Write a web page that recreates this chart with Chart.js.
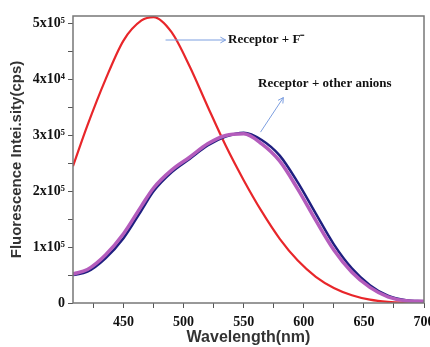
<!DOCTYPE html>
<html>
<head>
<meta charset="utf-8">
<script src="https://cdn.jsdelivr.net/npm/chart.js@4.4.1/dist/chart.umd.min.js"></script>
<style>
  body { margin: 0; background: #fff; }
  canvas { display: block; }
</style>
</head>
<body>
<canvas id="spectraChart" width="430" height="347"></canvas>
<script>
// wavelengths (nm) shared by all curves
const wavelengths = [408, 420, 435, 450, 465, 475, 490, 505, 520, 535, 550, 565, 580, 595, 610, 625, 640, 655, 670, 685, 700];

// intensities (cps)
const receptorF = [245000, 318000, 400000, 470000, 506000, 512000, 485000, 424000, 352000, 282000, 220000, 164000, 115000, 76000, 47000, 27000, 14000, 6000, 2000, 500, 0];
const receptorOther = [50000, 56000, 80000, 116000, 166000, 200000, 234000, 258000, 282000, 298000, 305000, 292000, 264000, 216000, 160000, 105000, 62000, 32000, 13000, 5000, 3000];
const receptorOther2 = [52000, 60000, 86000, 124000, 174000, 206000, 238000, 261000, 285000, 300000, 303000, 285000, 254000, 204000, 148000, 95000, 55000, 28000, 11000, 4000, 3000];

const xTickValues = [425, 450, 475, 500, 525, 550, 575, 600, 625, 650, 675, 700];
const yTickValues = [0, 50000, 100000, 150000, 200000, 250000, 300000, 350000, 400000, 450000, 500000];
const yTickLabels = {0: '0', 100000: '1x10\u2075', 200000: '2x10\u2075', 300000: '3x10\u2075', 400000: '4x10\u2074', 500000: '5x10\u2075'};

function toPoints(values) {
  return values.map((v, i) => ({ x: wavelengths[i], y: v }));
}

// frame round the plot plus the two arrow labels
const framePlugin = {
  id: 'frame',
  afterDraw(chart) {
    const { ctx, chartArea: a, scales: { x, y } } = chart;
    ctx.save();
    ctx.strokeStyle = '#777';
    ctx.lineWidth = 1.5;
    ctx.strokeRect(a.left, a.top, a.right - a.left, a.bottom - a.top);

    const arrow = (x0, y0, x1, y1) => {
      const px0 = x.getPixelForValue(x0), py0 = y.getPixelForValue(y0);
      const px1 = x.getPixelForValue(x1), py1 = y.getPixelForValue(y1);
      const ang = Math.atan2(py1 - py0, px1 - px0);
      ctx.strokeStyle = '#7d9fe0';
      ctx.lineWidth = 1;
      ctx.beginPath();
      ctx.moveTo(px0, py0);
      ctx.lineTo(px1, py1);
      ctx.moveTo(px1 - 6 * Math.cos(ang - 0.5), py1 - 6 * Math.sin(ang - 0.5));
      ctx.lineTo(px1, py1);
      ctx.lineTo(px1 - 6 * Math.cos(ang + 0.5), py1 - 6 * Math.sin(ang + 0.5));
      ctx.stroke();
    };
    arrow(485, 471000, 535, 471000);
    arrow(564, 306000, 583, 368000);

    ctx.fillStyle = '#111';
    ctx.font = 'bold 13px "Liberation Serif"';
    ctx.textBaseline = 'middle';
    ctx.fillText('Receptor + F\u207B', x.getPixelForValue(537), y.getPixelForValue(471000));
    ctx.fillText('Receptor + other anions', x.getPixelForValue(562), y.getPixelForValue(393000));
    ctx.restore();
  }
};

const ctx = document.getElementById('spectraChart').getContext('2d');
new Chart(ctx, {
  type: 'line',
  data: {
    datasets: [
      {
        label: 'Receptor + other anions (2)',
        data: toPoints(receptorOther2),
        borderColor: '#b45cbc',
        borderWidth: 3.5,
        pointRadius: 0,
        cubicInterpolationMode: 'monotone',
        fill: false
      },
      {
        label: 'Receptor + other anions',
        data: toPoints(receptorOther),
        borderColor: '#1f1f80',
        borderWidth: 2.5,
        pointRadius: 0,
        cubicInterpolationMode: 'monotone',
        fill: false
      },
      {
        label: 'Receptor + F-',
        data: toPoints(receptorF),
        borderColor: '#e8262a',
        borderWidth: 2.2,
        pointRadius: 0,
        cubicInterpolationMode: 'monotone',
        fill: false
      }
    ]
  },
  options: {
    responsive: false,
    animation: false,
    layout: { padding: { top: 16, right: 6, left: 0, bottom: 0 } },
    plugins: {
      legend: { display: false },
      tooltip: { enabled: false }
    },
    scales: {
      x: {
        type: 'linear',
        min: 408,
        max: 700,
        afterBuildTicks: s => { s.ticks = xTickValues.map(v => ({ value: v })); },
        afterFit: s => { s.height = 44; s.paddingRight = 0; s.paddingLeft = 0; },
        grid: { drawOnChartArea: false, drawTicks: true, tickLength: 5, tickColor: '#555' },
        border: { display: false },
        ticks: {
          autoSkip: false,
          maxRotation: 0,
          padding: 6,
          color: '#111',
          font: { family: 'Liberation Serif', weight: 'bold', size: 14 },
          callback: v => (v % 50 === 0 ? String(v) : '')
        },
        title: {
          display: true,
          text: 'Wavelength(nm)',
          color: '#333',
          padding: { top: 0, bottom: 0 },
          font: { family: 'Liberation Sans', weight: 'bold', size: 16 }
        }
      },
      y: {
        min: 0,
        max: 514000,
        afterBuildTicks: s => { s.ticks = yTickValues.map(v => ({ value: v })); },
        afterFit: s => { s.width = 73; },
        grid: { drawOnChartArea: false, drawTicks: true, tickLength: 5, tickColor: '#555' },
        border: { display: false },
        ticks: {
          autoSkip: false,
          padding: 3,
          color: '#111',
          font: { family: 'Liberation Serif', weight: 'bold', size: 14 },
          callback: v => yTickLabels[v] || ''
        },
        title: {
          display: true,
          text: 'Fluorescence Intei.sity(cps)',
          color: '#333',
          padding: { top: 8, bottom: 0 },
          font: { family: 'Liberation Sans', weight: 'bold', size: 15 }
        }
      }
    }
  },
  plugins: [framePlugin]
});
</script>
</body>
</html>
